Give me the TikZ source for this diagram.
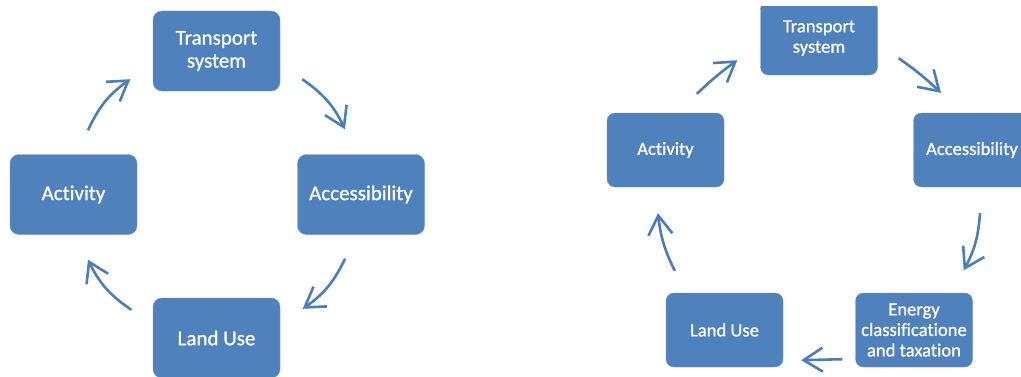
\documentclass[tikz,border=0pt]{standalone}
\usepackage{fontspec}
\setmainfont{Carlito}[Ligatures=NoCommon,FakeBold=0.8]
\usetikzlibrary{arrows.meta}
\definecolor{boxblue}{HTML}{4F81BD}
\definecolor{arrowblue}{HTML}{4A7EBB}
\tikzset{
	node_box/.style = {
		align=center,
		inner sep=0pt,
		text centered,
		rounded corners=9pt,
		fill=boxblue,
		draw=boxblue!85!white,
		thin,
		text=white,
		font=\fontsize{21}{23}\selectfont,
		minimum width=127pt,
		minimum height=80pt
	},
	node_box_small/.style = {
		node_box,
		rounded corners=8pt,
		font=\fontsize{18.6}{20.5}\selectfont,
		minimum width=117pt,
		minimum height=74pt
	},
	flow/.style = {
		arrowblue,
		line width=2.6pt
	},
}
\begin{document}
\begin{tikzpicture}[x=1pt,y=1pt,->,>={Straight Barb[length=19pt,width=24pt]}]
\useasboundingbox (0,0) rectangle (1021,376);
% left cycle
\node [node_box] (ts_l) at (216.5,325) {Transport\\system};
\node [node_box] (act_l) at (73.5,181.5) {Activity};
\node [node_box] (acc_l) at (361,181.5) {Accessibility};
\node [node_box] (lu_l) at (216.5,38) {Land Use};
\draw [flow] ([shift={(14.5,24)}]act_l.north) to[bend left=15] ([shift={(-22.5,12)}]ts_l.south west);
\draw [flow] ([shift={(22,12)}]ts_l.south east) to[bend left=15] ([shift={(-16,25)}]acc_l.north);
\draw [flow] ([shift={(-16,-24)}]acc_l.south) to[bend left=15] ([shift={(22.5,-11)}]lu_l.north east);
\draw [flow] ([shift={(-21.5,-12)}]lu_l.north west) to[bend left=15] ([shift={(14.5,-25)}]act_l.south);
% right cycle
\begin{scope}
\clip (595,0) rectangle (1021,369);
\node [node_box_small] (ts_r) at (819,338) {Transport\\system};
\node [node_box_small] (act_r) at (665.5,226) {Activity};
\node [node_box_small] (acc_r) at (972,226) {Accessibility};
\node [node_box_small] (en_r) at (914,46) {Energy\\classificatione\\and taxation};
\node [node_box_small] (lu_r) at (724.5,46) {Land Use};
\draw [flow] ([shift={(31.5,19)}]act_r.north) to[bend left=4] ([shift={(-23,15)}]ts_r.south west);
\draw [flow] ([shift={(21,17)}]ts_r.south east) to[bend left=4] ([shift={(-31,20)}]acc_r.north);
\draw [flow] ([shift={(8,-26)}]acc_r.south) to[bend left=12] ([shift={(-9,22.5)}]en_r.north east);
\draw [flow] ([shift={(-13,8)}]en_r.south west) -- ([shift={(18,7)}]lu_r.south east);
\draw [flow] ([shift={(9,22)}]lu_r.north west) to[bend left=10] ([shift={(-7.5,-26)}]act_r.south);
\end{scope}
\end{tikzpicture}
\end{document}
